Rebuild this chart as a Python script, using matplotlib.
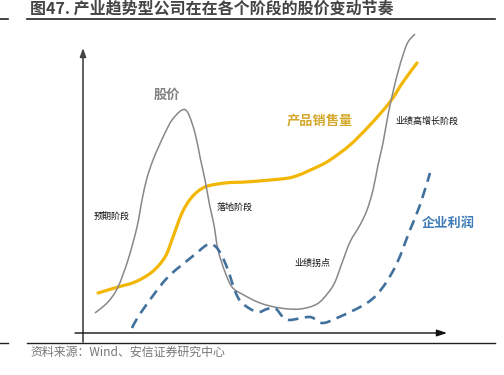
import matplotlib
matplotlib.use("Agg")
import matplotlib.pyplot as plt
from matplotlib.lines import Line2D
from matplotlib.path import Path
from matplotlib.patches import PathPatch
import numpy as np

plt.rcParams['font.family'] = ['Noto Sans CJK SC', 'DejaVu Sans']

# ---- data (schematic, in chart units: x = time, y = level) ----
price_x = [12, 25, 35, 45, 54, 59, 64, 70, 76, 82, 89, 99, 105, 112, 117, 122, 127, 131, 135, 142,
           149, 159, 177, 197, 217, 234, 245, 252, 259, 267, 277, 284, 290, 295, 300, 305, 310, 315,
           320, 325, 332]
price_y = [20, 31, 46, 73, 106, 133, 155, 173, 187, 200, 213, 223, 220, 200, 176, 153, 126, 108, 83,
           61, 46, 39, 30, 25, 24, 29, 40, 51, 70, 91, 108, 123, 143, 168, 190, 218, 241, 261, 278, 291,
           299]

sales_x = [15, 35, 52, 69, 82, 90, 99, 109, 122, 142, 162, 187, 210, 234, 247, 267, 287, 307, 320, 334]
sales_y = [40, 46, 51, 61, 76, 96, 120, 136, 146, 150, 151, 153, 156, 166, 173, 188, 208, 231, 251, 270]

profit_x = [49, 55, 69, 85, 105, 115, 122, 128, 134, 140, 146, 152, 159, 174, 184, 192, 200, 207, 227,
            239, 254, 284, 300, 314, 327, 337, 347]
profit_y = [5, 16, 36, 56, 73, 81, 87, 89, 85, 75, 60, 42, 30, 21, 24, 25, 16, 13, 16, 10, 15, 30,
            46, 70, 103, 128, 160]

labels = ['股价', '产品销售量', '企业利润', '预期阶段', '落地阶段', '业绩拐点', '业绩高增长阶段']
title = '图47. 产业趋势型公司在在各个阶段的股价变动节奏'
source = '资料来源：Wind、安信证券研究中心'


def smooth_path(xs, ys):
    """Catmull-Rom curve through the points, drawn as cubic Bezier segments."""
    p = np.column_stack([xs, ys]).astype(float)
    ext = np.vstack([p[0], p, p[-1]])
    verts = [p[0]]
    codes = [Path.MOVETO]
    for i in range(1, len(ext) - 2):
        a, b, c, d = ext[i - 1], ext[i], ext[i + 1], ext[i + 2]
        verts += [b + (c - a) / 6.0, c - (d - b) / 6.0, c]
        codes += [Path.CURVE4] * 3
    return Path(verts, codes)


W, H = 504, 375
fig = plt.figure(figsize=(W / 100, H / 100), dpi=100)
fig.patch.set_facecolor('white')

bg = fig.add_axes([0, 0, 1, 1])
bg.set_xlim(0, W)
bg.set_ylim(H, 0)
bg.axis('off')

x0, y0, x1, y1 = 83, 333, 447, 50
ax = fig.add_axes([x0 / W, (H - y0) / H, (x1 - x0) / W, (y0 - y1) / H])
ax.set_xlim(0, x1 - x0)
ax.set_ylim(0, y0 - y1)
ax.axis('off')

# title and rules
bg.text(30, 9, title, fontsize=11.5, color='#444444', fontweight='bold', va='center', ha='left')
bg.add_line(Line2D([27, 495], [19, 19], color='#222222', lw=1.2))
bg.add_line(Line2D([0, 8], [19, 19], color='#222222', lw=1.2))
bg.add_line(Line2D([27, 495], [343, 343], color='#222222', lw=1.0))
bg.add_line(Line2D([0, 8], [343, 343], color='#222222', lw=1.0))
bg.text(30, 352, source, fontsize=8.6, color='#777777', va='center', ha='left')

# axes with arrows
ax.annotate('', xy=(0, 285), xytext=(0, -9),
            arrowprops=dict(arrowstyle='-|>,head_length=0.5,head_width=0.18', color='#444444', lw=1.2,
                            shrinkA=0, shrinkB=0), annotation_clip=False)
ax.annotate('', xy=(364, 0), xytext=(-8, 0),
            arrowprops=dict(arrowstyle='-|>,head_length=0.6,head_width=0.2', color='#111111', lw=1.0,
                            shrinkA=0, shrinkB=0), annotation_clip=False)

# curves
ax.add_patch(PathPatch(smooth_path(sales_x, sales_y), fill=False, edgecolor='#F2B705', lw=2.3,
                       capstyle='round', clip_on=False, zorder=3))
ax.add_patch(PathPatch(smooth_path(price_x, price_y), fill=False, edgecolor='#888888', lw=1.1,
                       clip_on=False, zorder=4))
ax.add_patch(PathPatch(smooth_path(profit_x, profit_y), fill=False, edgecolor='#41719C', lw=1.9,
                       linestyle=(0, (4, 2.5)), clip_on=False, zorder=4))

# labels
ax.text(84, 238, labels[0], fontsize=9.5, color='#808080', fontweight='bold', ha='center', va='center')
ax.text(237, 213, labels[1], fontsize=9.5, color='#D4A82A', fontweight='bold', ha='center', va='center')
ax.text(365, 110, labels[2], fontsize=9.5, color='#3E7CB8', fontweight='bold', ha='center', va='center')
ax.text(29, 117, labels[3], fontsize=6.5, color='#111111', ha='center', va='center')
ax.text(152, 126, labels[4], fontsize=6.5, color='#111111', ha='center', va='center')
ax.text(229, 70, labels[5], fontsize=6.5, color='#111111', ha='center', va='center')
ax.text(344, 212, labels[6], fontsize=6.5, color='#111111', ha='center', va='center')

fig.savefig('out.png', dpi=100, facecolor='white')
